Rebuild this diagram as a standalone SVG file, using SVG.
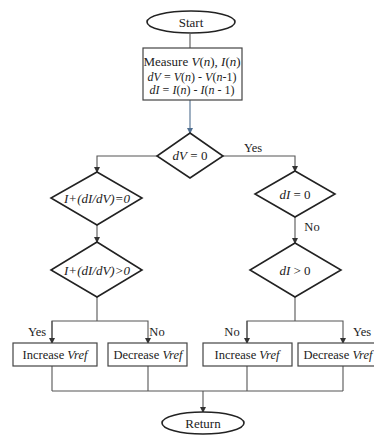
<svg xmlns="http://www.w3.org/2000/svg" width="374" height="436" viewBox="0 0 374 436">
<defs>
<marker id="ah" markerWidth="6" markerHeight="6" refX="5" refY="3" orient="auto" markerUnits="userSpaceOnUse">
<path d="M0,0 L6,3 L0,6 Z" fill="#333"/>
</marker>
<marker id="ahb" markerWidth="6" markerHeight="6" refX="5" refY="3" orient="auto" markerUnits="userSpaceOnUse">
<path d="M0,0 L6,3 L0,6 Z" fill="#4f6e8f"/>
</marker>
<style>
.s{fill:#fff;stroke:#222;stroke-width:1.6}
.b{fill:#fff;stroke:#444;stroke-width:1.2}
.c{fill:none;stroke:#555;stroke-width:1.1}
text{fill:#222;text-anchor:middle}
.t{font-size:13px}
.m{font-size:12px}
.b2{font-size:12.5px}
.i{font-style:italic}
.l{font-size:12.5px}
</style>
</defs>
<g id="connectors" font-family="'Liberation Serif','Times New Roman','DejaVu Serif',serif">
<line class="c" x1="190" y1="34" x2="190" y2="48"/>
<line x1="190" y1="100" x2="190" y2="133" style="stroke:#4f6e8f;stroke-width:1.1" marker-end="url(#ahb)"/>
<polyline class="c" points="157,156 97,156 97,172" marker-end="url(#ah)"/>
<polyline class="c" points="223,156 295,156 295,171" marker-end="url(#ah)"/>
<line class="c" x1="97" y1="225" x2="97" y2="242" marker-end="url(#ah)"/>
<line class="c" x1="295" y1="217" x2="295" y2="243" marker-end="url(#ah)"/>
<line class="c" x1="97" y1="297" x2="97" y2="321"/>
<polyline class="c" points="52,343 52,321 148,321 148,343" marker-end="url(#ah)"/>
<line class="c" x1="52" y1="321" x2="52" y2="343" marker-end="url(#ah)"/>
<line class="c" x1="295" y1="297" x2="295" y2="321"/>
<polyline class="c" points="247,343 247,321 343,321 343,343" marker-end="url(#ah)"/>
<line class="c" x1="247" y1="321" x2="247" y2="343" marker-end="url(#ah)"/>
<line class="c" x1="52" y1="366" x2="52" y2="391"/>
<line class="c" x1="148" y1="366" x2="148" y2="391"/>
<line class="c" x1="247" y1="366" x2="247" y2="391"/>
<line class="c" x1="343" y1="366" x2="343" y2="391"/>
<line class="c" x1="52" y1="391" x2="343" y2="391"/>
<line class="c" x1="203" y1="391" x2="203" y2="412" marker-end="url(#ah)"/>
<text class="l" x="253" y="152">Yes</text>
<text class="l" x="312" y="231">No</text>
<text class="l" x="37" y="336">Yes</text>
<text class="l" x="157" y="336">No</text>
<text class="l" x="232" y="336">No</text>
<text class="l" x="362" y="336">Yes</text>
</g>
<g font-family="'Liberation Serif','Times New Roman','DejaVu Serif',serif">
<g id="start">
<ellipse class="s" cx="191" cy="22" rx="44" ry="11"/>
<text class="t" x="191" y="26.5">Start</text>
</g>
<g id="measure">
<rect class="b" x="143" y="48" width="99" height="52"/>
<text class="t" x="192" y="66">Measure <tspan class="i">V</tspan>(<tspan class="i">n</tspan>), <tspan class="i">I</tspan>(<tspan class="i">n</tspan>)</text>
<text class="m" x="192" y="81"><tspan class="i">dV</tspan> = <tspan class="i">V</tspan>(<tspan class="i">n</tspan>) - <tspan class="i">V</tspan>(<tspan class="i">n</tspan>-1)</text>
<text class="m" x="192" y="94"><tspan class="i">dI</tspan> = <tspan class="i">I</tspan>(<tspan class="i">n</tspan>) - <tspan class="i">I</tspan>(<tspan class="i">n</tspan> - 1)</text>
</g>
<g id="d-dv">
<polygon class="s" points="190,133 223,156 190,178 157,156"/>
<text class="t" x="190" y="160"><tspan class="i">dV</tspan> = 0</text>
</g>
<g id="d-l1">
<polygon class="s" points="97,172 142,198 97,225 51,198"/>
<text class="t i" x="97" y="202.5">I+(dI/dV)=0</text>
</g>
<g id="d-l2">
<polygon class="s" points="97,242 142,270 97,297 51,270"/>
<text class="t i" x="97" y="274.5">I+(dI/dV)&gt;0</text>
</g>
<g id="d-di0">
<polygon class="s" points="295,171 335,194 295,217 255,194"/>
<text class="t" x="295" y="198.5"><tspan class="i">dI</tspan> = 0</text>
</g>
<g id="d-dig">
<polygon class="s" points="295,243 341,270 295,297 250,270"/>
<text class="t" x="295" y="274.5"><tspan class="i">dI</tspan> &gt; 0</text>
</g>
<g id="inc1">
<rect class="b" x="13" y="343" width="84" height="23"/>
<text class="b2" x="55" y="358.5">Increase <tspan class="i">Vref</tspan></text>
</g>
<g id="dec1">
<rect class="b" x="108" y="343" width="79" height="23"/>
<text class="b2" x="148" y="358.5">Decrease <tspan class="i">Vref</tspan></text>
</g>
<g id="inc2">
<rect class="b" x="203" y="343" width="89" height="23"/>
<text class="b2" x="247" y="358.5">Increase <tspan class="i">Vref</tspan></text>
</g>
<g id="dec2">
<rect class="b" x="298" y="343" width="80" height="23"/>
<text class="b2" x="338" y="358.5">Decrease <tspan class="i">Vref</tspan></text>
</g>
<g id="return">
<ellipse class="s" cx="203" cy="423" rx="41" ry="11"/>
<text class="t" x="203" y="427.5">Return</text>
</g>
</g>
</svg>
